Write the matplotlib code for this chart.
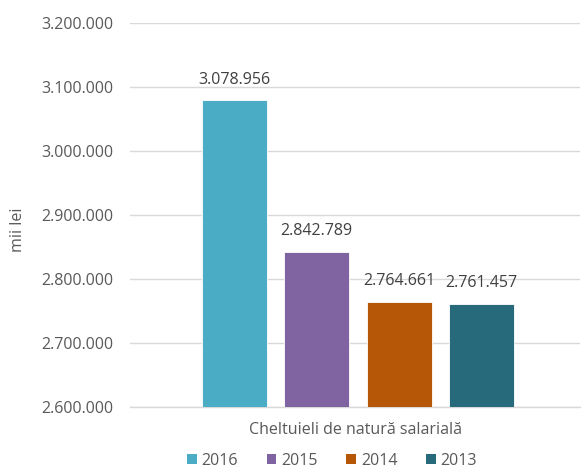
import matplotlib
matplotlib.use("Agg")
import matplotlib.pyplot as plt
from matplotlib.ticker import FuncFormatter
from matplotlib.patches import Patch

category = "Cheltuieli de natură salarială"
years = ["2016", "2015", "2014", "2013"]
values = [3078956, 2842789, 2764661, 2761457]
colors = ["#4BACC6", "#8064A2", "#B65708", "#276A7C"]
yticks = [2600000, 2700000, 2800000, 2900000, 3000000, 3100000, 3200000]

plt.rcParams['font.family'] = ['Open Sans', 'DejaVu Sans']
FS = 11.5

fig = plt.figure(figsize=(5.82, 4.68), dpi=100)
ax = fig.add_axes([130/582, 1 - 407/468, 450/582, (407 - 23)/468])

def fmt(v):
    return f"{int(round(v)):,}".replace(",", ".")

pitch = 82.5 / 450
width = 65 / 450
center = (358 - 130) / 450
for i, (y, v, c) in enumerate(zip(years, values, colors)):
    x = center + (i - 1.5) * pitch
    ax.bar(x, v - yticks[0], bottom=yticks[0], width=width, color=c,
           edgecolor="white", linewidth=0.6, zorder=3)
    ax.text(x, v + 20000, fmt(v), ha="center", va="bottom",
            fontsize=FS, color="#404040")

ax.set_xlim(0, 1)
ax.set_ylim(yticks[0], yticks[-1])
ax.set_yticks(yticks)
ax.yaxis.set_major_formatter(FuncFormatter(lambda v, p: fmt(v)))
ax.tick_params(axis="y", length=0, pad=12, labelsize=FS, labelcolor="#595959")
ax.set_xticks([])
ax.grid(axis="y", color="#D9D9D9", linewidth=1, zorder=0)
for s in ["top", "right", "left"]:
    ax.spines[s].set_visible(False)
ax.spines["bottom"].set_color("#D9D9D9")
ax.spines["bottom"].set_linewidth(1)

fig.text(355/582, 1 - 430/468, category, ha="center", va="center",
         fontsize=FS, color="#595959")
fig.text(18/582, 1 - 230/468, "mii lei", ha="center", va="center",
         rotation=90, fontsize=FS, color="#595959")

handles = [Patch(facecolor=c, edgecolor="none") for c in colors]
leg = fig.legend(handles, years, loc="center", bbox_to_anchor=(332/582, 1 - 461/468),
                 ncol=4, frameon=False, fontsize=FS, handlelength=0.6, handleheight=0.6,
                 handletextpad=0.3, columnspacing=1.8)
for t in leg.get_texts():
    t.set_color("#595959")

fig.savefig("out.png", dpi=100)
